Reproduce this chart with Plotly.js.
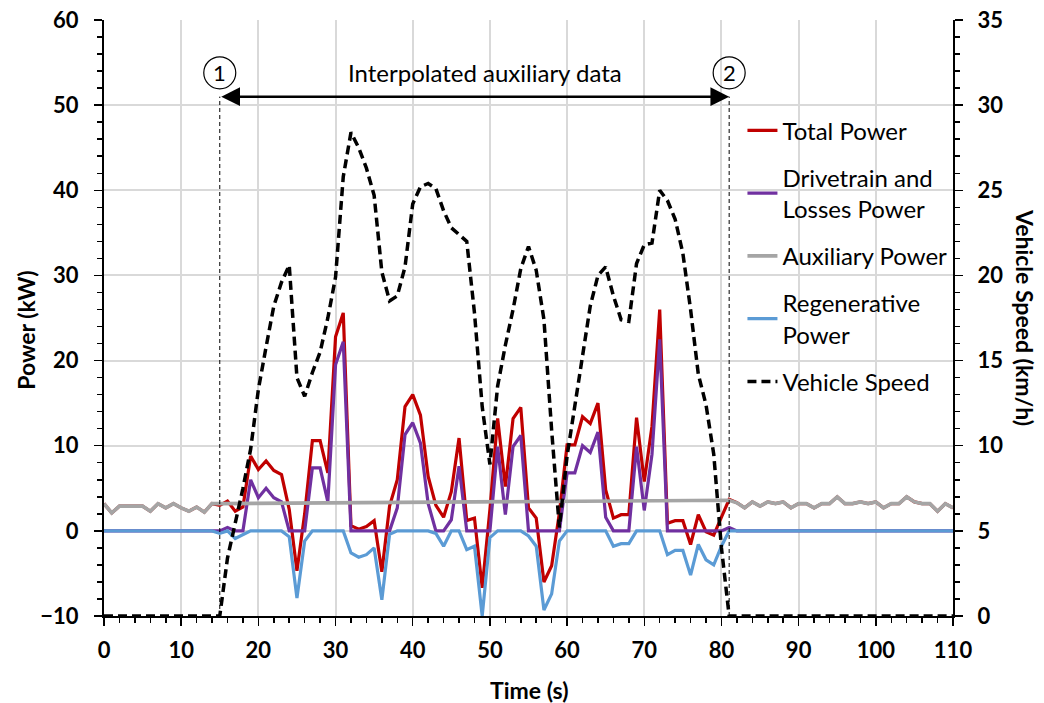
<!DOCTYPE html>
<html>
<head>
<meta charset="utf-8">
<script src="https://cdn.plot.ly/plotly-3.0.1.min.js"></script>
<style>
  html, body { margin: 0; padding: 0; background: #ffffff; }
  #chart { width: 1044px; height: 703px; }
</style>
</head>
<body>
<div id="chart"></div>
<script>
// ---------------- data ----------------
const time = [0,1,2,3,4,5,6,7,8,9,10,11,12,13,14,15,16,17,18,19,20,21,22,23,24,25,26,27,28,29,30,31,32,33,34,35,36,37,38,39,40,41,42,43,44,45,46,47,48,49,50,51,52,53,54,55,56,57,58,59,60,61,62,63,64,65,66,67,68,69,70,71,72,73,74,75,76,77,78,79,80,81,82,83,84,85,86,87,88,89,90,91,92,93,94,95,96,97,98,99,100,101,102,103,104,105,106,107,108,109,110];

const totalPower = [3.2,2.1,2.9,2.9,2.9,2.9,2.3,3.2,2.7,3.2,2.7,2.3,2.8,2.2,3.2,
  3.0,3.5,2.3,2.8,8.8,7.2,8.2,7.1,6.6,2.5,-4.7,2.0,10.6,10.6,6.8,22.8,25.6,0.6,0.2,0.5,1.2,-4.8,2.9,6.0,14.6,16.0,13.6,6.4,3.0,1.6,4.6,10.9,1.2,1.5,-6.7,2.5,13.2,5.2,13.2,14.5,2.7,1.5,-6.0,-4.1,2.1,10.1,10.1,13.4,12.6,15.0,4.8,1.5,1.9,1.9,13.3,5.8,12.3,26.0,0.9,1.2,1.2,-1.6,1.9,-0.1,-0.5,1.6,3.7,
  3.3,2.7,3.4,2.9,3.4,3.2,3.4,2.7,3.2,3.2,2.7,3.2,3.2,4.0,3.2,3.2,3.4,3.2,3.4,2.7,3.2,3.2,4.0,3.4,3.2,3.2,2.3,3.2,2.7];

const drivetrainPower = [0,0,0,0,0,0,0,0,0,0,0,0,0,0,0,
  0,0.4,0,0,6.0,3.9,5.0,3.9,3.4,0,0,0,7.4,7.4,3.4,19.5,22.2,0,0,0,0,0,0,2.7,11.3,12.7,10.3,3.2,0,0,1.3,7.6,0,0,0,0,9.9,1.9,9.9,11.2,0,0,0,0,0,6.8,6.8,10.0,9.2,11.6,1.6,0,0,0,9.9,2.4,9.0,22.5,0,0,0,0,0,0,0,0,0.4,
  0,0,0,0,0,0,0,0,0,0,0,0,0,0,0,0,0,0,0,0,0,0,0,0,0,0,0,0,0];

// auxiliary power is only measured outside the interpolated window (15 s - 81 s)
const auxTime = [0,1,2,3,4,5,6,7,8,9,10,11,12,13,14,15,81,82,83,84,85,86,87,88,89,90,91,92,93,94,95,96,97,98,99,100,101,102,103,104,105,106,107,108,109,110];
const auxPower = [3.2,2.1,2.9,2.9,2.9,2.9,2.3,3.2,2.7,3.2,2.7,2.3,2.8,2.2,3.2,3.2,
  3.6,3.3,2.7,3.4,2.9,3.4,3.2,3.4,2.7,3.2,3.2,2.7,3.2,3.2,4.0,3.2,3.2,3.4,3.2,3.4,2.7,3.2,3.2,4.0,3.4,3.2,3.2,2.3,3.2,2.7];

const regenPower = [0,0,0,0,0,0,0,0,0,0,0,0,0,0,0,
  -0.3,0,-0.9,-0.4,0,0,0,0,0,-0.7,-7.9,-1.2,0,0,0,0,0,-2.6,-3.1,-2.8,-2.0,-8.1,-0.4,0,0,0,0,0,-0.3,-1.8,0,0,-2.2,-1.8,-10.0,-0.8,0,0,0,0,-0.6,-1.8,-9.3,-7.4,-1.2,0,0,0,0,0,0,-1.8,-1.5,-1.5,0,0,0,0,-2.8,-2.3,-2.3,-5.2,-1.6,-3.4,-4.0,-1.8,0,
  0,0,0,0,0,0,0,0,0,0,0,0,0,0,0,0,0,0,0,0,0,0,0,0,0,0,0,0,0];

const vehicleSpeed = [0,0,0,0,0,0,0,0,0,0,0,0,0,0,0,
  0,3.4,5.4,7.5,9.8,13.3,15.8,18.2,19.6,20.6,14.0,12.9,14.3,15.5,17.5,19.9,25.8,28.4,27.5,26.3,24.7,20.2,18.5,18.8,20.5,24.2,25.2,25.4,25.1,23.8,22.8,22.4,22.0,17.8,12.3,8.9,13.5,15.9,18.0,20.4,21.7,20.3,17.4,10.9,5.2,9.4,12.3,15.2,18.2,20.0,20.5,18.8,17.4,17.3,20.7,21.8,21.9,25.0,24.4,23.3,21.3,18.0,14.2,12.4,9.5,4.0,0,
  0,0,0,0,0,0,0,0,0,0,0,0,0,0,0,0,0,0,0,0,0,0,0,0,0,0,0,0,0];

const seriesNames = ['Total Power', 'Drivetrain and<br>Losses Power', 'Auxiliary Power', 'Regenerative<br>Power', 'Vehicle Speed'];
const xTicks = [0,10,20,30,40,50,60,70,80,90,100,110];
const yTicks = [-10,0,10,20,30,40,50,60];
const y2Ticks = [0,5,10,15,20,25,30,35];
const windowStart = 15, windowEnd = 81;
const windowLabel = 'Interpolated auxiliary data';

// ---------------- chart ----------------
const FONT = 'Lato, "Open Sans", sans-serif';
const colors = ['#C00000', '#7030A0', '#A5A5A5', '#5B9BD5', '#000000'];

const traces = [
  {x: time, y: totalPower, name: seriesNames[0], legendgroup: 'g1', line: {color: colors[0], width: 3.2}},
  {x: time, y: drivetrainPower, name: seriesNames[1], legendgroup: 'g2', line: {color: colors[1], width: 3.2}},
  {x: auxTime, y: auxPower, name: seriesNames[2], legendgroup: 'g3', line: {color: colors[2], width: 3.6}},
  {x: time, y: regenPower, name: seriesNames[3], legendgroup: 'g4', line: {color: colors[3], width: 3.2}},
  {x: time, y: vehicleSpeed, name: seriesNames[4], legendgroup: 'g5', yaxis: 'y2', line: {color: colors[4], width: 3.5, dash: '9px,5px'}}
].map(t => Object.assign({type: 'scatter', mode: 'lines', hoverinfo: 'skip'}, t));

const tickFont = {family: FONT, size: 22, color: '#000', weight: 'bold'};
const axisCommon = {
  showline: true, linecolor: '#000', linewidth: 2,
  ticks: 'outside', ticklen: 8, tickwidth: 1.5, tickcolor: '#000',
  zeroline: false, tickfont: tickFont, fixedrange: true
};

const yLabel = 53.8;
const layout = {
  width: 1044, height: 703,
  margin: {l: 104, r: 91, t: 20, b: 87},
  paper_bgcolor: '#fff', plot_bgcolor: '#fff',
  font: {family: FONT, color: '#000'},
  showlegend: true,
  legend: {
    x: 0.752, y: 0.852, xanchor: 'left', yanchor: 'top',
    bgcolor: 'rgba(0,0,0,0)', font: {family: FONT, size: 24, color: '#000'},
    tracegroupgap: 13, itemwidth: 30
  },
  xaxis: Object.assign({}, axisCommon, {
    range: [0, 110], tickvals: xTicks, showgrid: true, gridcolor: '#d9d9d9', gridwidth: 2,
    ticklabelstandoff: 6,
    minor: {ticks: 'outside', dtick: 2, tick0: 0, ticklen: 5, tickwidth: 1.5, tickcolor: '#000', showgrid: false}
  }),
  yaxis: Object.assign({}, axisCommon, {
    range: [-10, 60], tickvals: yTicks, showgrid: true, gridcolor: '#d9d9d9', gridwidth: 2,
    ticklabelstandoff: 11,
    minor: {ticks: 'outside', dtick: 2, tick0: 0, ticklen: 5, tickwidth: 1.5, tickcolor: '#000', showgrid: false}
  }),
  yaxis2: Object.assign({}, axisCommon, {
    range: [0, 35], tickvals: y2Ticks, overlaying: 'y', side: 'right', showgrid: false,
    ticklabelstandoff: 10,
    minor: {ticks: 'outside', dtick: 1, tick0: 0, ticklen: 5, tickwidth: 1.5, tickcolor: '#000', showgrid: false}
  }),
  shapes: [
    {type: 'line', xref: 'x', yref: 'y', x0: windowStart, x1: windowStart, y0: -10, y1: 51, line: {color: '#000', width: 1, dash: '4px,3px'}},
    {type: 'line', xref: 'x', yref: 'y', x0: windowEnd, x1: windowEnd, y0: -10, y1: 51, line: {color: '#000', width: 1, dash: '4px,3px'}},
    {type: 'circle', xref: 'x', yref: 'y', xsizemode: 'pixel', ysizemode: 'pixel', xanchor: windowStart, yanchor: yLabel, x0: -16, x1: 16, y0: -16, y1: 16, line: {color: '#000', width: 1.2}},
    {type: 'circle', xref: 'x', yref: 'y', xsizemode: 'pixel', ysizemode: 'pixel', xanchor: windowEnd, yanchor: yLabel, x0: -16, x1: 16, y0: -16, y1: 16, line: {color: '#000', width: 1.2}}
  ],
  annotations: [
    {xref: 'x', yref: 'y', x: windowEnd, y: 51, ax: windowStart, ay: 51, axref: 'x', ayref: 'y', text: '', showarrow: true,
     arrowhead: 2, arrowside: 'end+start', arrowsize: 1.5, arrowwidth: 2.5, arrowcolor: '#000', standoff: 0, startstandoff: 0},
    {xref: 'x', yref: 'y', x: windowStart, y: yLabel, text: '1', showarrow: false, font: {family: FONT, size: 22, color: '#000'}},
    {xref: 'x', yref: 'y', x: windowEnd, y: yLabel, text: '2', showarrow: false, font: {family: FONT, size: 22, color: '#000'}},
    {xref: 'x', yref: 'y', x: (windowStart + windowEnd) / 2 + 1.4, y: yLabel, text: windowLabel, showarrow: false, font: {family: FONT, size: 24, color: '#000'}},
    {xref: 'paper', yref: 'paper', x: 0.5006, y: -0.124, xanchor: 'center', yanchor: 'middle', text: 'Time (s)', showarrow: false, font: {family: FONT, size: 23, color: '#000', weight: 'bold'}},
    {xref: 'paper', yref: 'paper', x: -0.092, y: 0.48, xanchor: 'center', yanchor: 'middle', text: 'Power (kW)', textangle: -90, showarrow: false, font: {family: FONT, size: 23, color: '#000', weight: 'bold'}},
    {xref: 'paper', yref: 'paper', x: 1.0848, y: 0.50, xanchor: 'center', yanchor: 'middle', text: 'Vehicle Speed (km/h)', textangle: 90, showarrow: false, font: {family: FONT, size: 23, color: '#000', weight: 'bold'}}
  ]
};

Plotly.newPlot('chart', traces, layout, {displayModeBar: false, staticPlot: true});
</script>
</body>
</html>
